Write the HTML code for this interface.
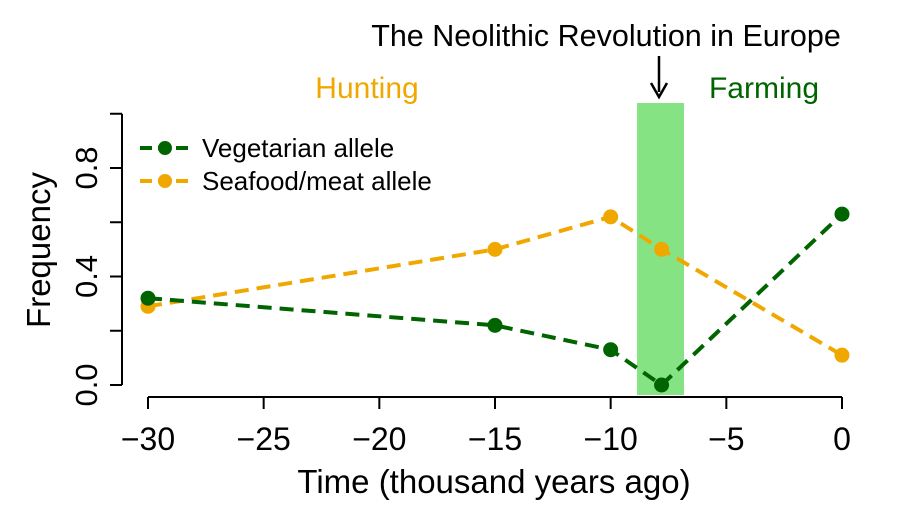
<!DOCTYPE html>
<html><head><meta charset="utf-8"><style>
body{margin:0;background:#fff}
svg{display:block;font-family:"Liberation Sans",Arial,sans-serif}
</style></head><body>
<svg id="chart" width="900" height="512">
<g id="band"></g>
<g id="axes"></g>
<g id="series"></g>
<text x="606" y="46" font-size="30.5" text-anchor="middle" fill="#000">The Neolithic Revolution in Europe</text>
<line x1="659" y1="56" x2="659" y2="92" stroke="#000" stroke-width="2.5"/>
<path d="M651,83 L659,97 L667,83" fill="none" stroke="#000" stroke-width="2.5"/>
<text x="367" y="98" font-size="30" text-anchor="middle" fill="#f0a800">Hunting</text>
<text x="764" y="98" font-size="30" text-anchor="middle" fill="#006400">Farming</text>
<g>
<line x1="140" y1="148" x2="190" y2="148" stroke="#006400" stroke-width="4" stroke-dasharray="12,6"/>
<circle cx="165" cy="148" r="7" fill="#006400"/>
<text x="202" y="157" font-size="26">Vegetarian allele</text>
<line x1="140" y1="181" x2="190" y2="181" stroke="#f0a800" stroke-width="4" stroke-dasharray="12,6"/>
<circle cx="165" cy="181" r="7" fill="#f0a800"/>
<text x="202" y="190" font-size="26">Seafood/meat allele</text>
</g>
<text x="494" y="493" font-size="33" text-anchor="middle">Time (thousand years ago)</text>
<text transform="translate(50,250) rotate(-90)" font-size="33" text-anchor="middle">Frequency</text>
</svg>
<script>
const times = [-30, -15, -10, -7.8, 0];
const vegetarian = [0.32, 0.22, 0.13, 0.0, 0.63];
const seafood = [0.29, 0.50, 0.62, 0.50, 0.11];
const xTicks = [-30, -25, -20, -15, -10, -5, 0];
const xTickLabels = ["\u221230","\u221225","\u221220","\u221215","\u221210","\u22125","0"];
const yTicks = [0, 0.4, 0.8];
const yTickLabels = ["0.0","0.4","0.8"];
const bandRange = [-8.86, -6.83];

const NS = "http://www.w3.org/2000/svg";
const X = t => 842 + (t / 30) * 694;
const Y = v => 385 - v * 271.25;
function mk(tag, attrs, parent){const e=document.createElementNS(NS,tag);for(const k in attrs)e.setAttribute(k,attrs[k]);parent.appendChild(e);return e;}

const band = document.getElementById('band');
const r = mk('rect',{x:X(bandRange[0]),y:103,width:X(bandRange[1])-X(bandRange[0]),height:292,fill:'#86e383'},band);



const axes = document.getElementById('axes');
const xl = mk('line',{x1:X(xTicks[0]),y1:397,x2:X(xTicks[xTicks.length-1]),y2:397,stroke:'#000','stroke-width':2},axes);


xTicks.forEach((t,i)=>{
  const l = mk('line',{x1:X(t),y1:397,x2:X(t),y2:409,stroke:'#000','stroke-width':2},axes);
  
  
  const tx = mk('text',{x:X(t),y:450,'font-size':32,'text-anchor':'middle'},axes);
  tx.textContent = xTickLabels[i];
  
  
});
const yl = mk('line',{x1:122,y1:Y(0),x2:122,y2:Y(1),stroke:'#000','stroke-width':2},axes);


[0,0.2,0.4,0.6,0.8,1.0].forEach(v=>{
  const l = mk('line',{x1:110,y1:Y(v),x2:122,y2:Y(v),stroke:'#000','stroke-width':2},axes);
  
  
});
yTicks.forEach((v,i)=>{
  const tx = mk('text',{transform:`translate(97,${Y(v)}) rotate(-90)`,'font-size':31,'text-anchor':'middle'},axes);
  tx.textContent = yTickLabels[i];
  
  
});

const series = document.getElementById('series');
function draw(vals, color, name){
  const pts = times.map((t,i)=>X(t)+','+Y(vals[i])).join(' ');
  const pl = mk('polyline',{points:pts,fill:'none',stroke:color,'stroke-width':4,'stroke-dasharray':'14,8'},series);
  
  
  times.forEach((t,i)=>{
    const c = mk('circle',{cx:X(t),cy:Y(vals[i]),r:7.5,fill:color},series);
    
    
  });
}
draw(seafood,'#f0a800','seafood-series');
draw(vegetarian,'#006400','vegetarian-series');
</script>
</body></html>
